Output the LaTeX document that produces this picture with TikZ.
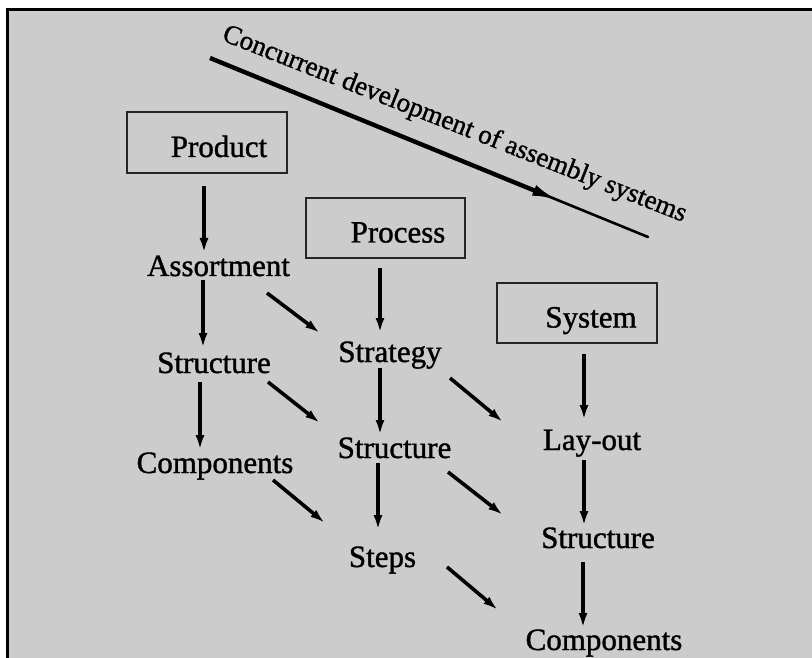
\documentclass[tikz,border=0pt]{standalone}
\usepackage{fontspec}
\setmainfont{Liberation Serif}
\newfontfamily\inkfont{Liberation Serif}[FakeBold=1.2]
\usetikzlibrary{arrows.meta,calc}
\begin{document}
\begin{tikzpicture}[x=1pt,y=-1pt,
  lbl/.style={inner sep=0pt, anchor=base, font=\inkfont\fontsize{31}{36}\selectfont},
  stagebox/.style={draw=black!85, line width=1.3pt, minimum width=160pt,
    minimum height=61pt, inner sep=0pt, text height=29pt, text depth=0pt,
    font=\inkfont\fontsize{31}{36}\selectfont},
  arr/.style={line width=3.4pt, -{Latex[length=15pt,width=9pt]}},
  diag/.style={line width=3.6pt, -{Latex[length=15pt,width=9pt]}},
]
\useasboundingbox (0,0) rectangle (812,658);
% shaded panel with its top and left rule
\fill[black!20] (7,10) rectangle (812,658);
\draw[line width=3pt] (7,658) -- (7,10) -- (812,10);

% the three development streams
\node[stagebox] (prod) at (207,142.5) {\hspace*{24pt}Product};
\node[stagebox, minimum width=159pt, minimum height=60pt] (proc) at (385.5,228) {\hspace*{25pt}Process};
\node[stagebox, minimum height=60pt] (sys) at (577,313) {\hspace*{28pt}System};

\node[lbl] (assort) at (218.5,276) {Assortment};
\node[lbl] (strucA) at (214,373) {Structure};
\node[lbl] (compA)  at (215,473) {Components};

\node[lbl] (strat)  at (390,362) {Strategy};
\node[lbl] (strucB) at (394.5,458) {Structure};
\node[lbl] (steps)  at (382.5,567) {Steps};

\node[lbl] (layout) at (592,450) {Lay-out};
\node[lbl] (strucC) at (598,548) {Structure};
\node[lbl] (compC)  at (604,650) {Components};

% vertical flows
\draw[arr] ($(prod.south)+(-3,12)$) -- ($(assort.base)+(-14.5,-23)$);
\draw[arr] ($(assort.base)+(-15.5,4)$) -- ($(strucA.base)+(-11,-25)$);
\draw[arr] ($(strucA.base)+(-14,9)$) -- ($(compA.base)+(-15,-23)$);

\draw[arr] ($(proc.south)+(-5.5,9)$) -- ($(strat.base)+(-10,-29)$);
\draw[arr] ($(strat.base)+(-10,6)$) -- ($(strucB.base)+(-14.5,-23)$);
\draw[arr] ($(strucB.base)+(-16.5,5)$) -- ($(steps.base)+(-4.5,-37)$);

\draw[arr] ($(sys.south)+(7,10)$) -- ($(layout.base)+(-8,-30)$);
\draw[arr] ($(layout.base)+(-8,10)$) -- ($(strucC.base)+(-14,-22)$);
\draw[arr] ($(strucC.base)+(-15,14)$) -- ($(compC.base)+(-21,-22)$);

% cross links between streams
\draw[diag] ($(assort.base)+(48.5,17)$) -- ($(strat.base)+(-70,-29)$);
\draw[diag] ($(strucA.base)+(54,9)$) -- ($(strucB.base)+(-74.5,-35)$);
\draw[diag] ($(compA.base)+(58,7)$) -- ($(steps.base)+(-57.5,-44)$);
\draw[diag] ($(strat.base)+(60,16)$) -- ($(layout.base)+(-89,-28)$);
\draw[diag] ($(strucB.base)+(53.5,14)$) -- ($(strucC.base)+(-95,-33)$);
\draw[diag] ($(steps.base)+(64.5,0)$) -- ($(compC.base)+(-106,-40)$);

% concurrent development axis
\coordinate (cs) at (210,58);
\coordinate (tip) at (560,201);
\coordinate (ce) at (648,237);
\draw[line width=2.6pt, line cap=round] ($(cs)!0.7!(ce)$) -- (ce);
\draw[line width=4.4pt, -{Latex[length=28pt,width=11pt]}] (cs) -- (tip);
\node[rotate=-21.5, anchor=base, inner sep=0pt, font=\inkfont\fontsize{27}{32}\selectfont]
  (concur) at (452,131) {Concurrent development of assembly systems};
\end{tikzpicture}
\end{document}
